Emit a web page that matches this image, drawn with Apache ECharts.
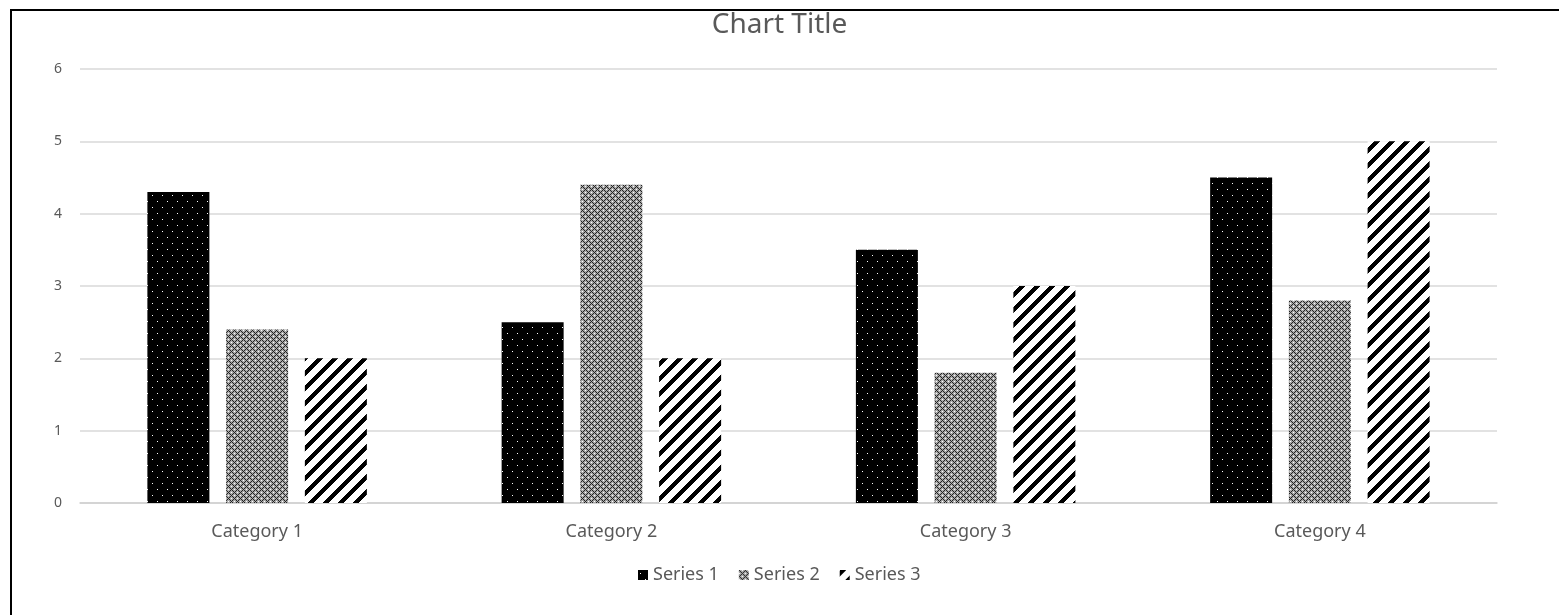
<!DOCTYPE html>
<html>
<head>
<meta charset="utf-8">
<script src="https://cdn.jsdelivr.net/npm/echarts@6/dist/echarts.min.js"></script>
<style>
  html, body { margin: 0; padding: 0; background: #fff; }
  #frame {
    position: absolute; left: 10px; top: 9px; right: -5px; bottom: -5px;
    border-left: 2px solid #000; border-top: 2px solid #000;
  }
  #chart { position: absolute; left: 0; top: 0; width: 1559px; height: 615px; }
</style>
</head>
<body>
<div id="chart"></div>
<div id="frame"></div>
<script>
const categories = ["Category 1", "Category 2", "Category 3", "Category 4"];
const series1 = [4.3, 2.5, 3.5, 4.5];
const series2 = [2.4, 4.4, 1.8, 2.8];
const series3 = [2, 2, 3, 5];
const seriesNames = ["Series 1", "Series 2", "Series 3"];

// pattern tiles, roughly like the excel fills
function dotTile() {
  const c = document.createElement("canvas");
  c.width = 10; c.height = 12;
  const ctx = c.getContext("2d");
  ctx.fillStyle = "#000";
  ctx.fillRect(0, 0, 10, 12);
  ctx.fillStyle = "#fff";
  ctx.fillRect(2, 3, 1, 1);
  ctx.fillRect(7, 9, 1, 1);
  return c;
}

function latticeTile() {
  const c = document.createElement("canvas");
  c.width = 6; c.height = 6;
  const ctx = c.getContext("2d");
  ctx.fillStyle = "#a8a8a8";
  ctx.fillRect(0, 0, 6, 6);
  ctx.fillStyle = "#222";
  for (let x = 0; x < 6; x++) {
    for (let y = 0; y < 6; y++) {
      if ((x + y) % 6 === 0 || (x - y + 6) % 6 === 0) ctx.fillRect(x, y, 1, 1);
    }
  }
  ctx.fillStyle = "#fff";
  ctx.fillRect(3, 0, 1, 1);
  ctx.fillRect(0, 3, 1, 1);
  return c;
}

// "/" stripes drawn pixel by pixel so the tile edges meet cleanly
function stripeTile() {
  const s = 15, t = 6;
  const c = document.createElement("canvas");
  c.width = s; c.height = s;
  const ctx = c.getContext("2d");
  ctx.fillStyle = "#fff";
  ctx.fillRect(0, 0, s, s);
  ctx.fillStyle = "#000";
  for (let x = 0; x < s; x++) {
    for (let y = 0; y < s; y++) {
      if ((x + y) % s < t) ctx.fillRect(x, y, 1, 1);
    }
  }
  return c;
}

const fills = [
  { image: dotTile(), repeat: "repeat" },
  { image: latticeTile(), repeat: "repeat" },
  { image: stripeTile(), repeat: "repeat" }
];

const chart = echarts.init(document.getElementById("chart"));
const textColor = "#595959";
const fontFam = "'Noto Sans', sans-serif";

chart.setOption({
  animation: false,
  title: {
    text: "Chart Title",
    left: "center",
    top: 6,
    textStyle: { color: textColor, fontSize: 28, fontWeight: "normal", fontFamily: fontFam }
  },
  legend: {
    bottom: 26,
    left: 633,
    itemWidth: 10,
    itemHeight: 10,
    itemGap: 20,
    icon: "rect",
    textStyle: { color: textColor, fontSize: 18, fontFamily: fontFam },
    data: seriesNames
  },
  grid: { left: 80, right: 62, top: 69, bottom: 112 },
  xAxis: {
    type: "category",
    data: categories,
    axisTick: { show: false },
    axisLine: { lineStyle: { color: "#d0d0d0", width: 1.5 } },
    axisLabel: { color: textColor, fontSize: 18, fontFamily: fontFam, margin: 20 }
  },
  yAxis: {
    type: "value",
    min: 0,
    max: 6,
    interval: 1,
    axisLine: { show: false },
    axisTick: { show: false },
    axisLabel: { color: textColor, fontSize: 14, fontFamily: fontFam, margin: 18 },
    splitLine: { lineStyle: { color: "#d9d9d9", width: 1.5 } }
  },
  series: [
    { name: seriesNames[0], type: "bar", data: series1, barWidth: 62, barGap: "27%", itemStyle: { color: fills[0] } },
    { name: seriesNames[1], type: "bar", data: series2, barWidth: 62, barGap: "27%", itemStyle: { color: fills[1] } },
    { name: seriesNames[2], type: "bar", data: series3, barWidth: 62, barGap: "27%", itemStyle: { color: fills[2] } }
  ]
});
</script>
</body>
</html>
